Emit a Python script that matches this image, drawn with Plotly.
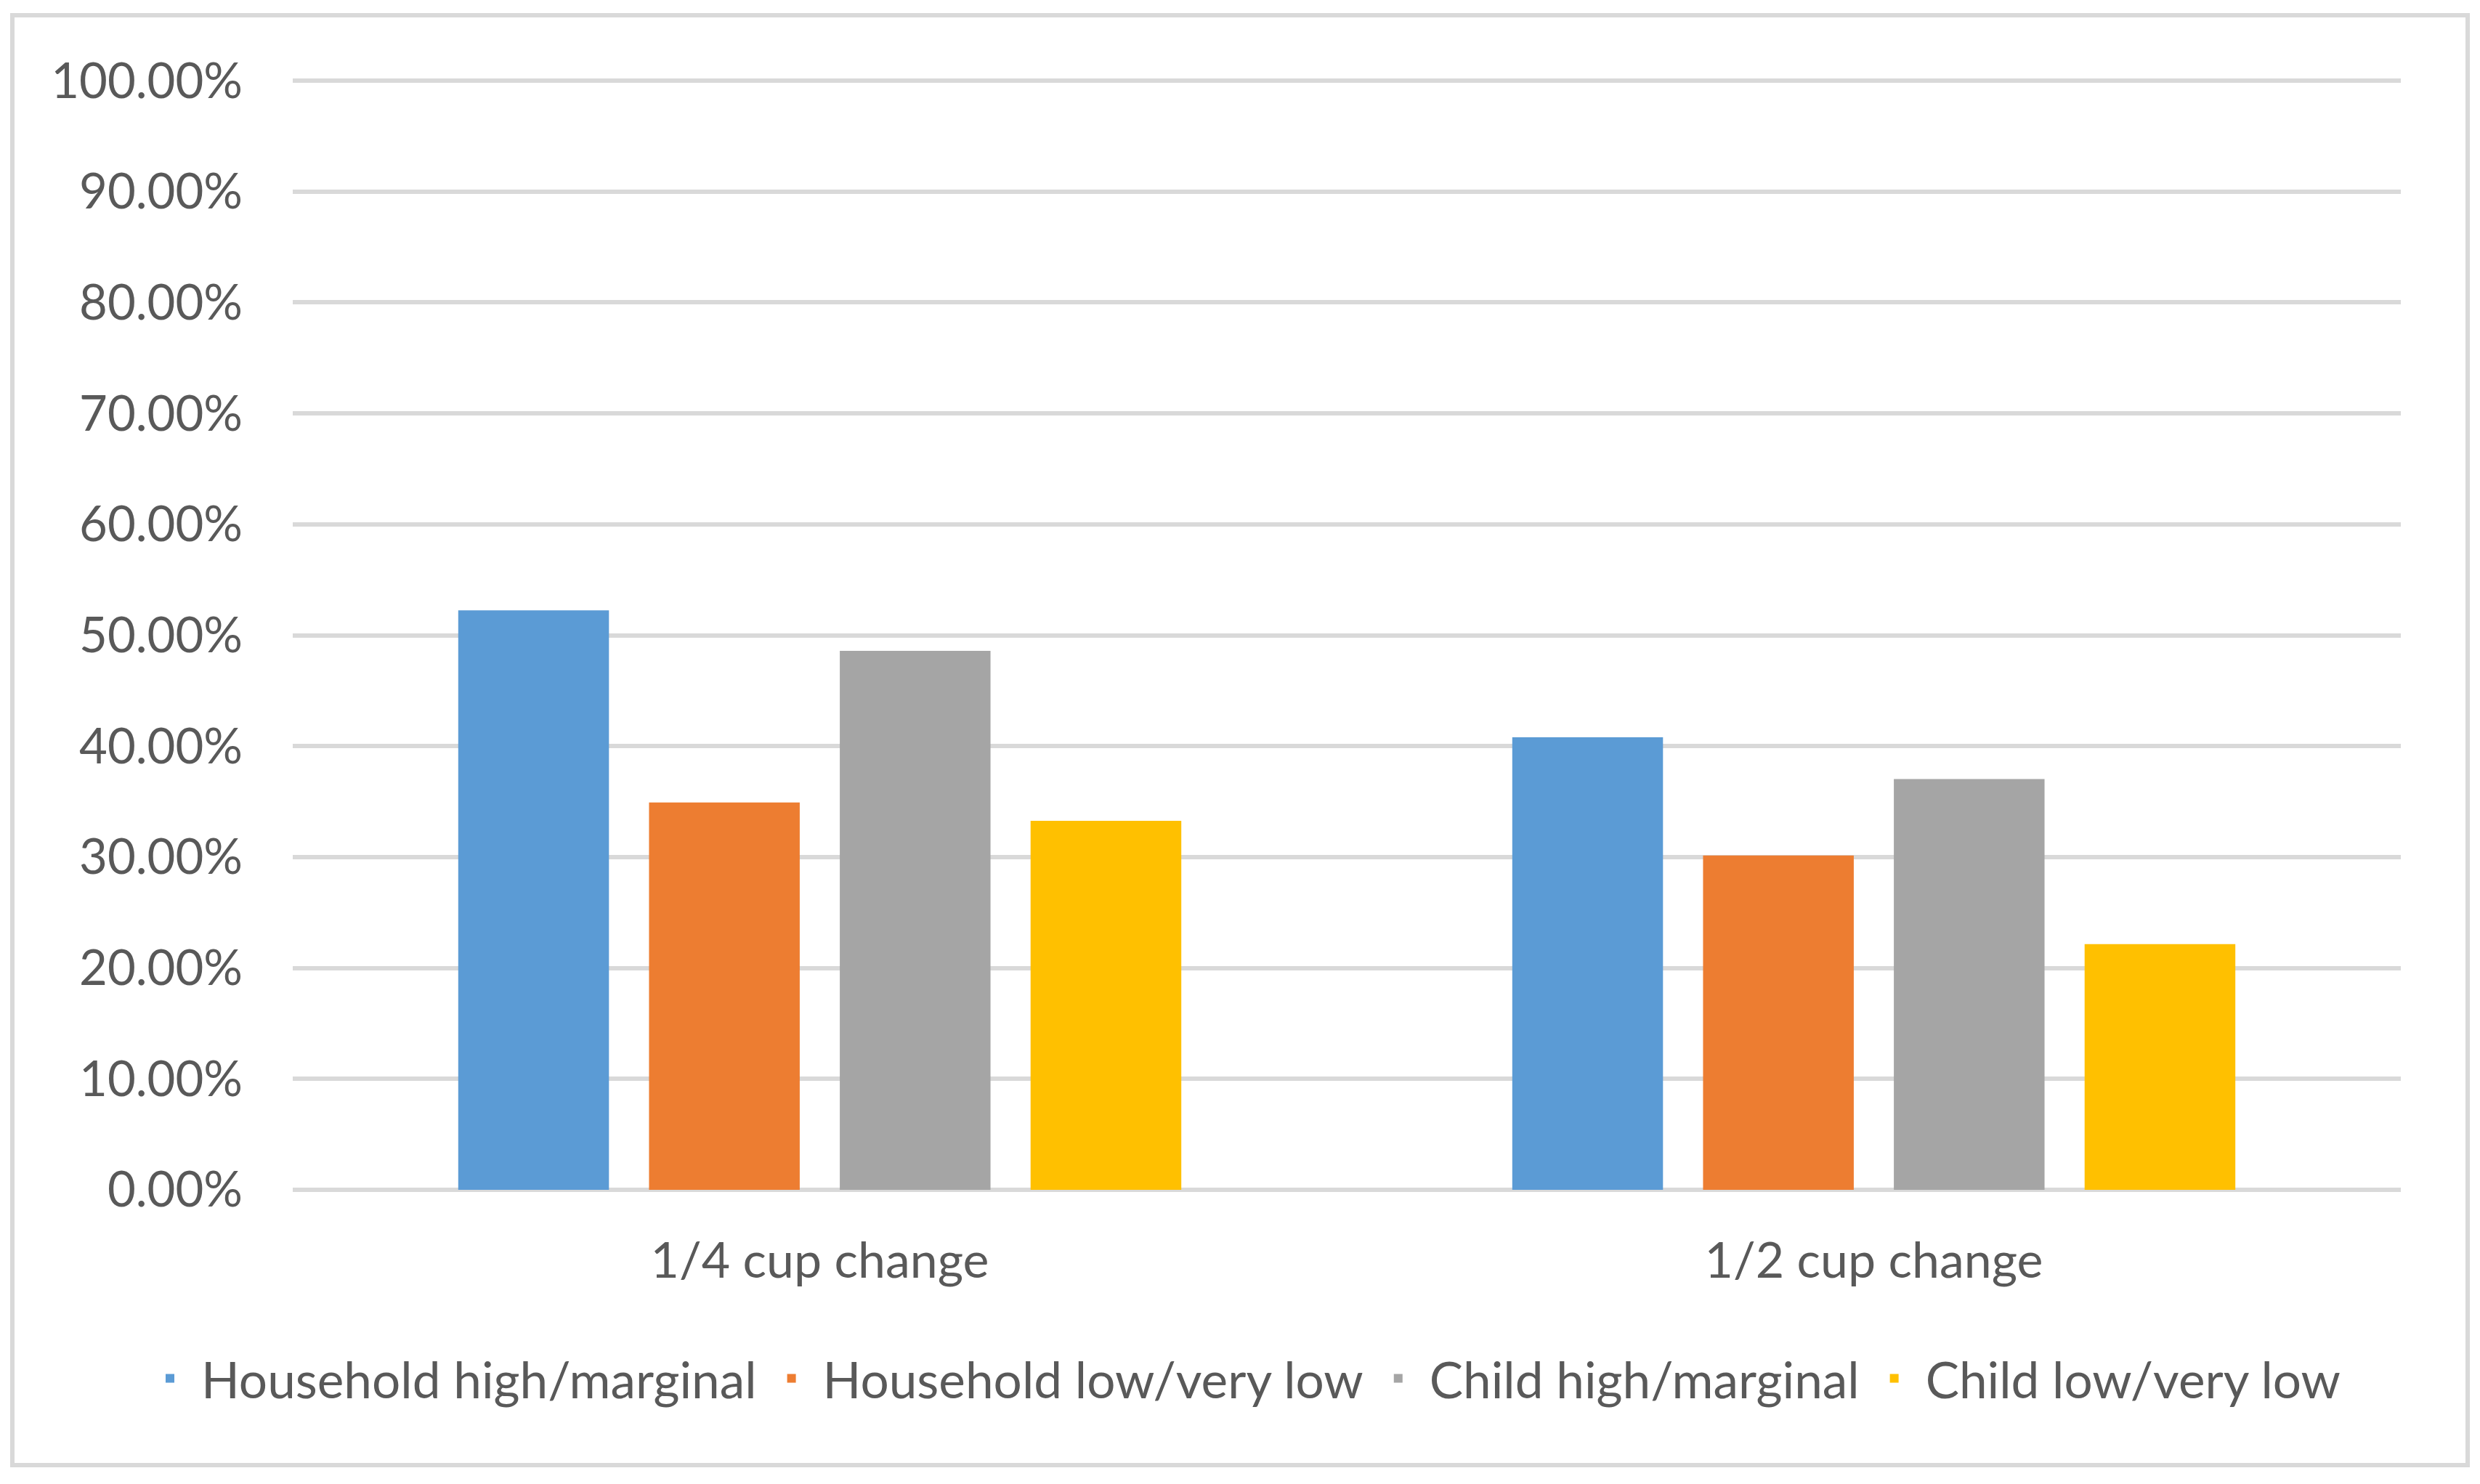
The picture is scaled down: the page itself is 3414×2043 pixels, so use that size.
import plotly.graph_objects as go

categories = ["1/4 cup change", "1/2 cup change"]
series_names = ["Household high/marginal", "Household low/very low",
                "Child high/marginal", "Child low/very low"]
household_high = [0.5225, 0.4081]
household_low = [0.3492, 0.3014]
child_high = [0.4860, 0.3703]
child_low = [0.3327, 0.2216]
series_values = [household_high, household_low, child_high, child_low]
colors = ["#5B9BD5", "#ED7D31", "#A5A5A5", "#FFC000"]
y_ticks = [0, 0.1, 0.2, 0.3, 0.4, 0.5, 0.6, 0.7, 0.8, 0.9, 1.0]

OFF = 8  # default page body margin
W, H = 3414 - 2 * OFF, 2043 - 2 * OFF
YMAX = 1.004
L, R, B = 403 - OFF, 3305 - OFF, 1638 - OFF
T = (111 - OFF) - (YMAX - 1.0) * (B - (111 - OFF))

fig = go.Figure()
for name, vals, col in zip(series_names, series_values, colors):
    fig.add_trace(go.Bar(x=categories, y=vals, name=name,
                         marker=dict(color=col, line=dict(width=0))))

fam = "Lato, Open Sans, sans-serif"
tick_font = dict(family=fam, size=67, color="#595959")
cat_font = dict(family=fam, size=68, color="#595959")
leg_font = dict(family=fam, size=69.3, color="#595959")

pw, ph = R - L, B - T
def px_to_paper_x(px):
    return (px - OFF - L) / pw
def px_to_paper_y(py):
    return (B - (py - OFF)) / ph

fig.add_shape(type="rect", xref="paper", yref="paper",
              x0=px_to_paper_x(17), x1=px_to_paper_x(3397),
              y0=px_to_paper_y(2017), y1=px_to_paper_y(21),
              line=dict(color="#D9D9D9", width=6), fillcolor="rgba(0,0,0,0)",
              layer="below")

fig.update_layout(
    width=W, height=H,
    margin=dict(l=L, r=W - R, t=T, b=H - B, pad=0),
    paper_bgcolor="white", plot_bgcolor="white",
    barmode="group", bargap=0.276, bargroupgap=0.21,
    font=tick_font,
    showlegend=True,
    legend=dict(orientation="h", xref="paper", yref="paper",
                x=px_to_paper_x(191), xanchor="left",
                y=px_to_paper_y(1898), yanchor="middle",
                font=leg_font, itemsizing="constant", itemwidth=76,
                tracegroupgap=0),
    xaxis=dict(showgrid=False, showline=False, zeroline=False,
               tickfont=cat_font, ticks="", ticklabelstandoff=52),
    yaxis=dict(range=[0, YMAX], tickvals=y_ticks, tickformat=".2%",
               showgrid=True, gridcolor="#D9D9D9", gridwidth=6,
               zeroline=True, zerolinecolor="#D9D9D9", zerolinewidth=6,
               showline=False, ticks="", tickfont=tick_font,
               ticklabelstandoff=68),
)

fig.write_html("out.html")
